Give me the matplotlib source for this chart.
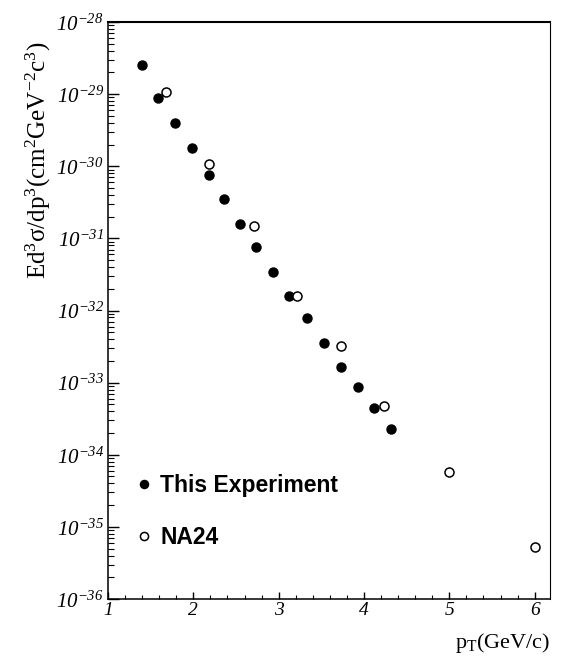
import math
import matplotlib
matplotlib.use("Agg")
import matplotlib.pyplot as plt
from matplotlib.ticker import LogLocator, FixedLocator, MultipleLocator, FuncFormatter

plt.rcParams['mathtext.fontset'] = 'custom'
plt.rcParams['mathtext.rm'] = 'Liberation Serif:italic'
plt.rcParams['mathtext.it'] = 'Liberation Serif:italic'
plt.rcParams['mathtext.sf'] = 'Liberation Serif'

# This Experiment (filled)
exp_pt = [1.40, 1.59, 1.79, 1.98, 2.18, 2.36, 2.55, 2.73, 2.93, 3.12, 3.33, 3.53, 3.73, 3.93, 4.12, 4.32]
exp_xs = [2.5e-29, 8.9e-30, 4.0e-30, 1.8e-30, 7.6e-31, 3.5e-31, 1.6e-31, 7.6e-32, 3.4e-32,
          1.6e-32, 7.9e-33, 3.5e-33, 1.66e-33, 8.6e-34, 4.4e-34, 2.3e-34]

# NA24 (open)
na24_pt = [1.68, 2.18, 2.71, 3.22, 3.73, 4.24, 5.00, 6.01]
na24_xs = [1.08e-29, 1.06e-30, 1.5e-31, 1.6e-32, 3.2e-33, 4.8e-34, 5.8e-35, 5.2e-36]

x_ticks = [1, 2, 3, 4, 5, 6]
y_exps = [-28, -29, -30, -31, -32, -33, -34, -35, -36]

fig = plt.figure(figsize=(5.61, 6.61), dpi=100)
ax = fig.add_axes([108/561, 1-599/661, (550-108)/561, (599-22)/661])

ax.plot(exp_pt, exp_xs, 'o', color='black', markersize=6.5, linestyle='none',
        label='This Experiment')
ax.plot(na24_pt, na24_xs, 'o', markerfacecolor='white', markeredgecolor='black',
        markeredgewidth=1.1, markersize=6.5, linestyle='none', label='NA24')

ax.set_yscale('log')
ax.set_xlim(1, 6.18)
ax.set_ylim(1e-36, 1e-28)

ax.xaxis.set_major_locator(FixedLocator(x_ticks))
ax.xaxis.set_minor_locator(MultipleLocator(0.2))
ax.set_xticklabels([str(v) for v in x_ticks], fontfamily='Liberation Serif', fontstyle='italic')
ax.yaxis.set_major_locator(FixedLocator([10.0**e for e in y_exps]))
ax.yaxis.set_minor_locator(LogLocator(base=10, subs=range(2, 10), numticks=20))
ax.yaxis.set_major_formatter(FuncFormatter(lambda v, p: r'$10^{%d}$' % round(math.log10(v))))

ax.tick_params(which='both', direction='in', top=False, right=False)
ax.tick_params(axis='y', which='major', length=8, width=1.0, labelsize=15, pad=3)
ax.tick_params(axis='y', which='minor', length=4, width=0.8)
ax.tick_params(axis='x', which='major', length=5, width=1.0, labelsize=14, pad=2)
ax.tick_params(axis='x', which='minor', length=3, width=0.8)

for s in ax.spines.values():
    s.set_linewidth(1.1)
ax.spines['top'].set_linewidth(1.5)
ax.spines['right'].set_linewidth(0.8)

ax.set_ylabel(r'$\mathsf{Ed^3\sigma/dp^3(cm^2GeV^{-2}c^3)}$', fontsize=18)
ax.yaxis.set_label_coords(-0.125, 0.761)

fig.text(550/561, 1-643/661, r'$\mathsf{p_T(GeV/c)}$', ha='right', va='center', fontsize=16)

leg = ax.legend(loc='upper left', bbox_to_anchor=(0.035, 0.232), frameon=False,
                prop={'family': 'Liberation Sans', 'weight': 'bold', 'size': 16.5},
                handletextpad=0.2, labelspacing=1.25, markerscale=0.9, handlelength=1.0,
                borderaxespad=0.0)

fig.savefig('out.png', dpi=100)
